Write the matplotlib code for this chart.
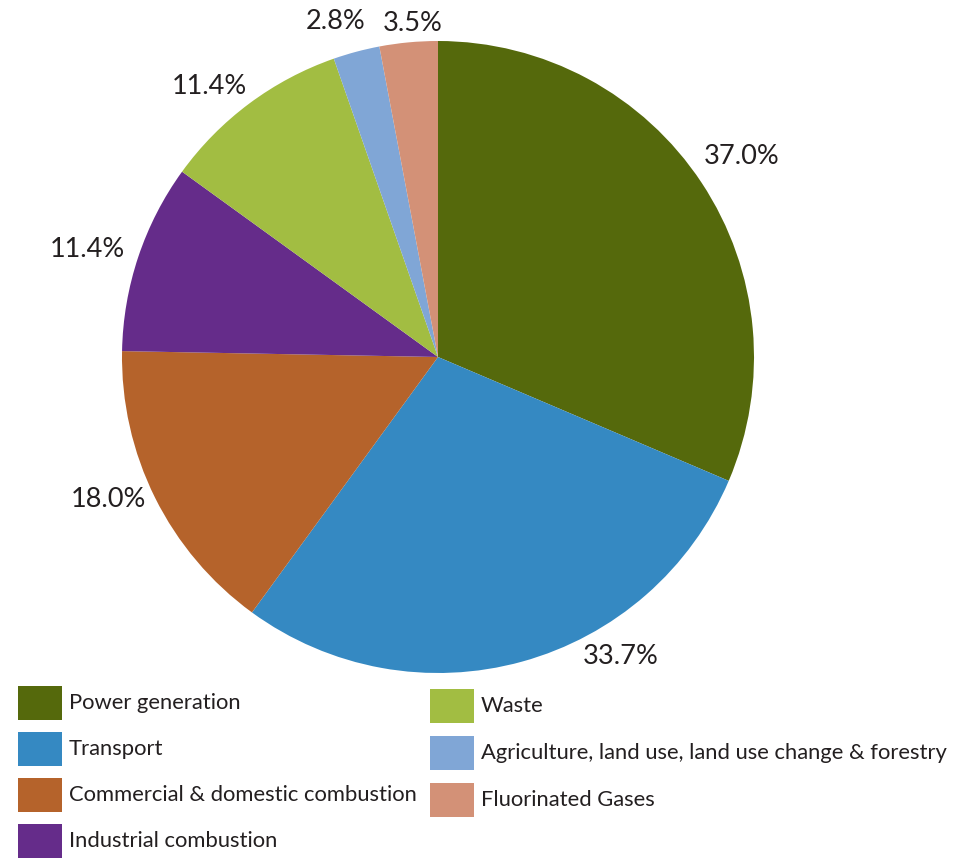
import numpy as np
import matplotlib
matplotlib.use("Agg")
import matplotlib.pyplot as plt
from matplotlib.patches import Rectangle

plt.rcParams["font.family"] = ["Lato", "DejaVu Sans"]

# data, clockwise from 12 o'clock
sectors = [
    "Power generation",
    "Transport",
    "Commercial & domestic combustion",
    "Industrial combustion",
    "Waste",
    "Agriculture, land use, land use change & forestry",
    "Fluorinated Gases",
]
shares = [37.0, 33.7, 18.0, 11.4, 11.4, 2.8, 3.5]
colors = ["#55690c", "#3589c2", "#b5632b", "#652c8a", "#a2bd42", "#80a6d6", "#d39177"]

# label placement tweaks (radius factor, angle nudge in degrees)
label_r = [1.15, 1.11, 1.135, 1.16, 1.12, 1.11, 1.06]
label_nudge = [0, 16, -3, 1.5, 3.5, 2, -1]

# legend layout: (column x px, row center y px)
legend_pos = [(18, 703), (18, 749), (18, 795), (18, 841),
              (430, 706), (430, 753), (430, 800)]

W, H = 971, 859
cx, cy, R = 438, 357, 316
text_color = "#231f20"

fig = plt.figure(figsize=(W / 100, H / 100), dpi=100)
ax = fig.add_axes([(cx - R) / W, (H - cy - R) / H, 2 * R / W, 2 * R / H])

wedges, _ = ax.pie(shares, colors=colors, startangle=90, counterclock=False,
                   radius=1, wedgeprops=dict(linewidth=0))
ax.set_xlim(-1, 1)
ax.set_ylim(-1, 1)
ax.set_aspect("equal")
ax.axis("off")

for w, val, r, nudge in zip(wedges, shares, label_r, label_nudge):
    ang = np.deg2rad((w.theta1 + w.theta2) / 2 + nudge)
    ax.text(r * np.cos(ang), r * np.sin(ang), f"{val:.1f}%", ha="center", va="center",
            fontsize=19.5, color=text_color)

# legend drawn by hand
for (x, yc), name, c in zip(legend_pos, sectors, colors):
    fig.patches.append(Rectangle((x / W, (H - yc - 17) / H), 44 / W, 34 / H,
                                 transform=fig.transFigure, facecolor=c, edgecolor="none"))
    fig.text((x + 51) / W, (H - yc) / H, name, ha="left", va="center",
             fontsize=15.8, color=text_color)

fig.savefig("out.png", dpi=100)
